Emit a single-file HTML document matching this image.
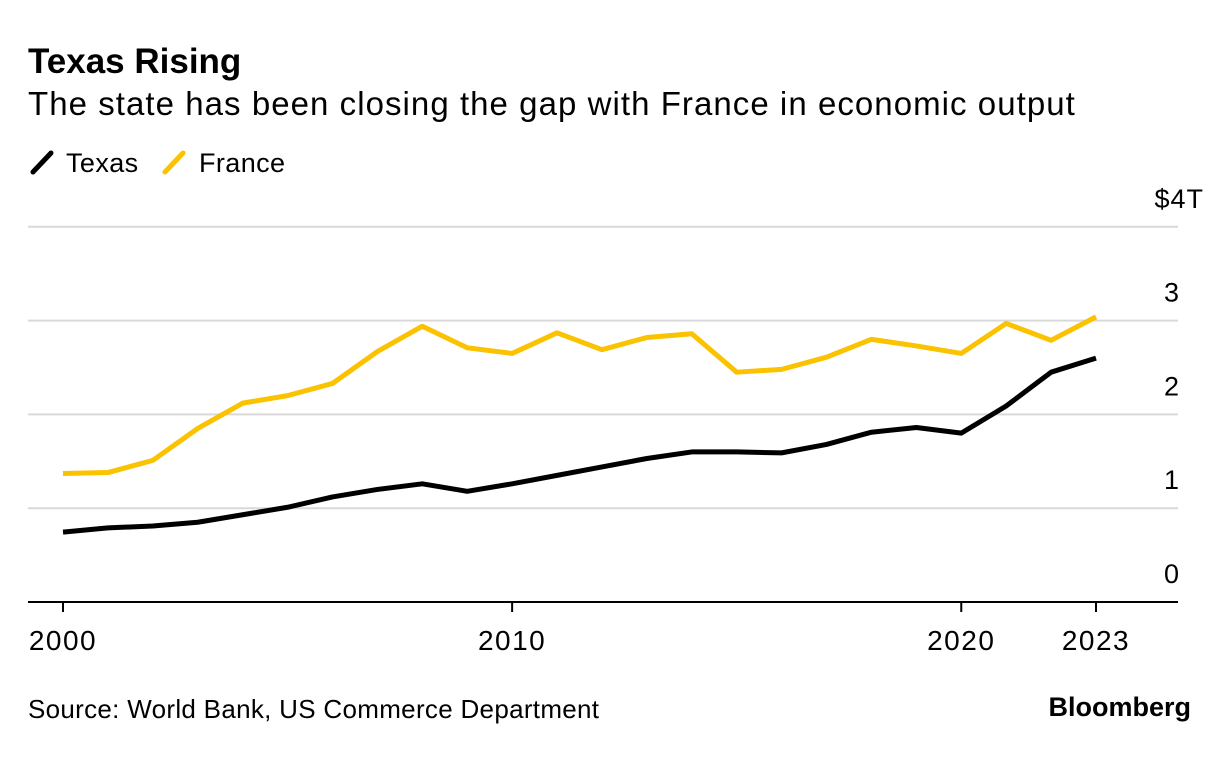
<!DOCTYPE html>
<html><head><meta charset="utf-8"><style>
body{margin:0;background:#fff;font-family:"Liberation Sans",Arial,sans-serif;}
svg text{font-family:"Liberation Sans",Arial,sans-serif;}
</style></head><body>
<svg width="1230" height="766" viewBox="0 0 1230 766">
<text x="28" y="73" font-size="35" font-weight="bold" fill="#000">Texas Rising</text>
<text x="28" y="115" font-size="33" letter-spacing="1.05" fill="#000">The state has been closing the gap with France in economic output</text>
<g>
<line x1="33" y1="172" x2="51" y2="153" stroke="#000" stroke-width="5" stroke-linecap="round"/>
<text x="66" y="172" font-size="27" letter-spacing="0.4">Texas</text>
<line x1="165" y1="172" x2="183" y2="153" stroke="#fbc200" stroke-width="5" stroke-linecap="round"/>
<text x="199" y="172" font-size="27" letter-spacing="0.4">France</text>
</g>
<g id="grid"></g><g id="lines"></g><g id="xaxis"></g>
<text x="28" y="718" font-size="26" letter-spacing="0.3" fill="#000">Source: World Bank, US Commerce Department</text>
<text x="1191" y="716" font-size="27" font-weight="bold" text-anchor="end">Bloomberg</text>
</svg>
<script>
const years=[2000,2001,2002,2003,2004,2005,2006,2007,2008,2009,2010,2011,2012,2013,2014,2015,2016,2017,2018,2019,2020,2021,2022,2023];
const texas=[0.745,0.79,0.81,0.85,0.93,1.01,1.12,1.20,1.26,1.18,1.26,1.35,1.44,1.53,1.60,1.60,1.59,1.68,1.81,1.86,1.80,2.09,2.45,2.60];
const france=[1.37,1.38,1.51,1.85,2.12,2.20,2.33,2.67,2.94,2.71,2.65,2.87,2.69,2.82,2.86,2.45,2.48,2.61,2.80,2.73,2.65,2.97,2.79,3.04];
const yTicks=[0,1,2,3,4];
const yTickLabels=["0","1","2","3","$4T"];
const xTicks=[2000,2010,2020,2023];
const xTickLabels=["2000","2010","2020","2023"];
const NS="http://www.w3.org/2000/svg";
const x=v=>63+(v-2000)*(1096-63)/23;
const y=v=>602-v*93.8;
function mk(tag,attrs,parent){const e=document.createElementNS(NS,tag);for(const k in attrs)e.setAttribute(k,attrs[k]);parent.appendChild(e);return e;}
const grid=document.getElementById('grid');
yTicks.forEach((t,i)=>{
 const l=mk('line',{x1:28,x2:1178,y1:y(t),y2:y(t),stroke:t===0?'#000':'#d9d9d9','stroke-width':2},grid);
 
 
 const tx=mk('text',{x:t===4?1204:1180,y:y(t)-19,'font-size':27,'letter-spacing':1,'text-anchor':'end'},grid);
 tx.textContent=yTickLabels[i];
 
 
});
const xa=document.getElementById('xaxis');
xTicks.forEach((t,i)=>{
 const l=mk('line',{x1:x(t),x2:x(t),y1:602,y2:612,stroke:'#000','stroke-width':2},xa);
 
 
 const tx=mk('text',{x:x(t),y:650,'font-size':28,'letter-spacing':1.5,'text-anchor':'middle'},xa);
 tx.textContent=xTickLabels[i];
 
 
});
const lines=document.getElementById('lines');
[[france,'#fbc200','france-line'],[texas,'#000','texas-line']].forEach(([d,c,n])=>{
 const p=mk('path',{d:d.map((v,i)=>(i?'L':'M')+x(years[i])+','+y(v)).join(''),fill:'none',stroke:c,'stroke-width':5,'stroke-linejoin':'round'},lines);
 
 
});
</script>
</body></html>
